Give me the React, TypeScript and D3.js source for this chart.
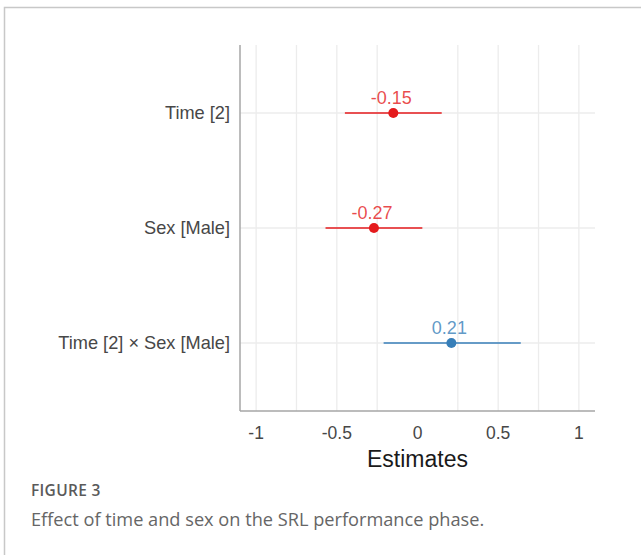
import * as React from "react";
import { scaleLinear, scalePoint, range } from "d3";

// model terms, estimates and 95% CI
const terms = ["Time [2]", "Sex [Male]", "Time [2] × Sex [Male]"];
const estimates = [-0.15, -0.27, 0.21];
const ciLow = [-0.45, -0.57, -0.21];
const ciHigh = [0.15, 0.03, 0.64];

const xTicks = [-1, -0.5, 0, 0.5, 1];
const xTickLabels = ["-1", "-0.5", "0", "0.5", "1"];

const RED = "#e41a1c";
const BLUE = "#377eb8";
const FONT = "Liberation Sans, Arial, sans-serif";

function ForestPlot() {
    const left = 240, right = 595, top = 45, bottom = 411;

    const xScale = scaleLinear().domain([-1.1, 1.1]).range([left, right]);
    const yScale = scalePoint().domain(terms).range([113, 343]);

    // minor grid every 0.25, the zero line is left out in the original
    const grid = range(-1, 1.01, 0.25).filter(v => Math.abs(v) > 1e-9);

    return (
        <svg width={641} height={555} style={{ display: "block" }}>
            <rect x={0} y={0} width={641} height={555} fill="#fff" />
            {/* frame of the figure box */}
            <path d="M4.5,555 V7.5 H641" fill="none" stroke="#c8c8c8" strokeWidth={1.5} />

            {/* grid */}
            {grid.map(v => (
                <line key={v} x1={xScale(v)} x2={xScale(v)} y1={top} y2={bottom}
                    stroke="#ececec" strokeWidth={1.3} />
            ))}
            {terms.map(t => (
                <line key={t} x1={left} x2={right} y1={yScale(t)} y2={yScale(t)}
                    stroke="#ececec" strokeWidth={1.3} />
            ))}

            {/* axes */}
            <line x1={left} x2={left} y1={top} y2={bottom} stroke="#a6a6a6" strokeWidth={1.5} />
            <line x1={left} x2={right} y1={bottom} y2={bottom} stroke="#a6a6a6" strokeWidth={1.5} />

            {/* y labels */}
            {terms.map(t => (
                <text key={t} x={230} y={yScale(t)} dy="0.35em" textAnchor="end"
                    fontFamily={FONT} fontSize={18.2} fill="#474747">
                    {t}
                </text>
            ))}

            {/* x tick labels */}
            {xTicks.map((v, i) => (
                <text key={v} x={xScale(v)} y={438.5} textAnchor="middle"
                    fontFamily={FONT} fontSize={17.5} fill="#474747">
                    {xTickLabels[i]}
                </text>
            ))}
            <text x={(left + right) / 2} y={467} textAnchor="middle"
                fontFamily={FONT} fontSize={23} fill="#1a1a1a">
                Estimates
            </text>

            {/* estimates with CI */}
            {terms.map((t, i) => {
                const col = estimates[i] < 0 ? RED : BLUE;
                const y = yScale(t);
                return (
                    <g key={t}>
                        <line x1={xScale(ciLow[i])} x2={xScale(ciHigh[i])} y1={y} y2={y}
                            stroke={col} strokeOpacity={0.75} strokeWidth={2} />
                        <circle cx={xScale(estimates[i])} cy={y} r={5} fill={col} />
                        <text x={xScale(estimates[i]) - 2} y={y - 9.5} textAnchor="middle"
                            fontFamily={FONT} fontSize={18}
                            fill={col} fillOpacity={0.8}>
                            {estimates[i].toFixed(2)}
                        </text>
                    </g>
                );
            })}

            {/* caption */}
            <text x={31} y={495.5} fontFamily="Open Sans, sans-serif" fontSize={15.5}
                fontWeight={600} letterSpacing={0.3} fill="#5a5a5a">
                FIGURE 3
            </text>
            <text x={31} y={526} fontFamily="Open Sans, sans-serif" fontSize={18.2} fill="#666">
                Effect of time and sex on the SRL performance phase.
            </text>
        </svg>
    );
}

export default function App() {
    return (
        <div style={{ position: "absolute", left: 0, top: 0 }}>
            <ForestPlot />
        </div>
    );
}
